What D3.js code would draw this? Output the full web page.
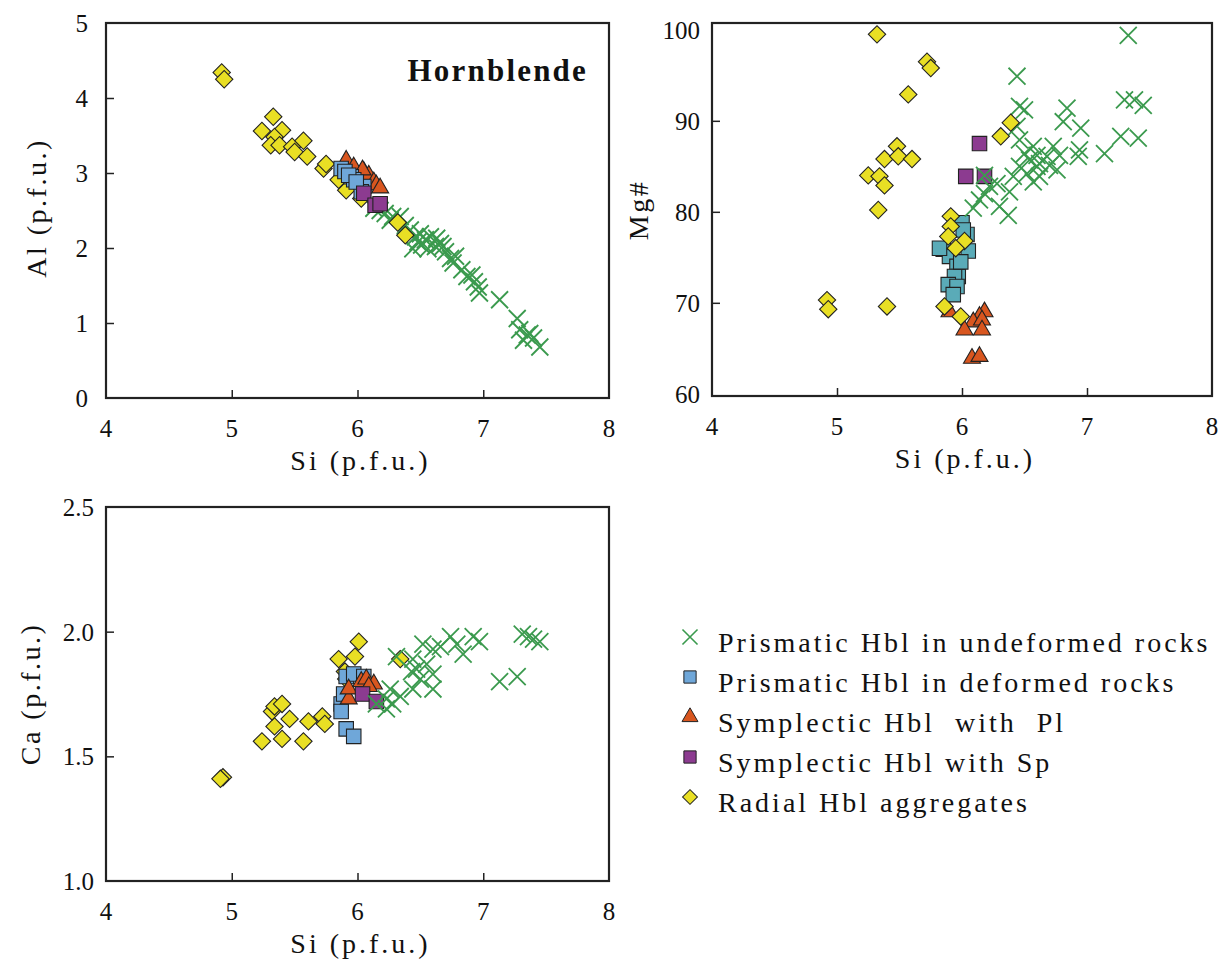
<!DOCTYPE html>
<html>
<head>
<meta charset="utf-8">
<script src="https://cdn.jsdelivr.net/npm/d3@7"></script>
<style>
  body { margin: 0; background: #fff; }
  svg { display: block; }
  text { font-family: "Liberation Serif", "Times New Roman", serif; fill: #111; }
</style>
</head>
<body>
<svg id="chart" width="1226" height="964"></svg>
<script>
// ---- data (Si, value) ----
const alUndeformed = [[6.13,2.53],[6.18,2.50],[6.22,2.46],[6.28,2.42],[6.34,2.42],[6.26,2.37],[6.38,2.30],[6.42,2.24],[6.46,2.15],[6.50,2.19],[6.54,2.11],[6.58,2.15],[6.63,2.13],[6.66,2.06],[6.48,2.08],[6.44,1.99],[6.51,2.04],[6.56,1.99],[6.62,2.02],[6.68,2.02],[6.70,1.95],[6.74,1.86],[6.78,1.89],[6.76,1.80],[6.83,1.71],[6.87,1.62],[6.91,1.64],[6.93,1.55],[6.96,1.48],[6.97,1.40],[7.13,1.31],[7.27,1.06],[7.29,0.91],[7.35,0.84],[7.40,0.80],[7.32,0.77],[7.45,0.68],[7.37,0.86]];
const alDeformed = [[5.87,3.06],[5.90,3.02],[5.95,2.95],[5.97,2.91],[6.05,2.82],[6.03,2.75],[5.93,2.97],[5.99,2.88]];
const alWithPl = [[5.91,3.17],[5.97,3.08],[6.05,3.02],[6.09,2.97],[6.13,2.88],[6.15,2.84],[6.18,2.80],[6.04,3.04]];
const alWithSp = [[6.05,2.73],[6.14,2.57],[6.18,2.59]];
const alRadial = [[4.92,4.34],[4.94,4.25],[5.33,3.75],[5.24,3.56],[5.40,3.57],[5.34,3.48],[5.31,3.37],[5.38,3.37],[5.48,3.35],[5.57,3.43],[5.50,3.28],[5.60,3.22],[5.73,3.06],[5.75,3.12],[5.85,2.91],[5.91,2.77],[6.03,2.66],[6.32,2.34],[6.38,2.17]];

const mgUndeformed = [[7.33,99.4],[6.44,94.9],[6.46,91.6],[6.50,91.2],[6.84,91.4],[6.81,89.9],[6.95,89.2],[7.30,92.3],[7.45,91.7],[7.38,92.3],[7.27,88.3],[7.41,88.1],[7.14,86.4],[6.94,86.8],[6.93,86.1],[6.44,89.4],[6.46,87.9],[6.57,87.2],[6.73,87.2],[6.50,86.4],[6.60,86.2],[6.68,86.1],[6.78,86.2],[6.54,85.7],[6.62,85.3],[6.70,85.1],[6.60,85.0],[6.76,84.6],[6.46,85.0],[6.52,84.2],[6.62,83.9],[6.57,83.3],[6.41,83.9],[6.28,83.1],[6.18,84.0],[6.22,82.8],[6.38,82.2],[6.14,81.3],[6.09,80.4],[6.30,80.6],[6.37,79.6],[6.18,82.0]];
const mgDeformed = [[6.00,78.8],[6.04,77.5],[5.85,75.9],[6.05,75.7],[5.90,75.1],[5.96,74.0],[5.97,72.9],[5.94,72.9],[5.89,72.0],[5.96,71.8],[5.93,70.9],[5.82,76.0],[6.01,78.0],[5.99,74.5]];
const mgWithPl = [[5.90,69.0],[6.18,69.0],[6.14,68.5],[6.09,67.9],[6.16,68.1],[6.02,67.0],[6.16,67.0],[6.08,63.9],[6.14,64.1]];
const mgWithSp = [[6.14,87.5],[6.03,83.9],[6.18,83.9]];
const mgRadial = [[5.32,99.5],[5.72,96.5],[5.75,95.8],[5.57,92.9],[6.39,89.8],[6.31,88.3],[5.48,87.2],[5.38,85.8],[5.49,86.1],[5.60,85.8],[5.25,84.0],[5.34,83.9],[5.38,82.9],[5.33,80.2],[5.91,79.5],[5.91,78.4],[5.89,77.3],[6.02,76.8],[5.95,76.0],[4.92,70.3],[4.93,69.3],[5.40,69.6],[5.86,69.6],[5.99,68.5]];

const caUndeformed = [[6.15,1.71],[6.23,1.69],[6.28,1.71],[6.26,1.77],[6.34,1.74],[6.23,1.73],[6.44,1.77],[6.50,1.81],[6.47,1.85],[6.55,1.87],[6.60,1.77],[6.60,1.83],[6.43,1.84],[6.52,1.95],[6.60,1.93],[6.66,1.94],[6.74,1.98],[6.79,1.95],[6.84,1.91],[6.92,1.98],[6.97,1.96],[6.31,1.90],[6.44,1.89],[7.13,1.80],[7.27,1.82],[7.31,1.99],[7.40,1.97],[7.45,1.96],[7.36,1.98]];
const caDeformed = [[5.87,1.71],[5.87,1.68],[5.91,1.61],[5.97,1.58],[5.91,1.82],[5.97,1.83],[6.05,1.82],[5.89,1.75]];
const caWithPl = [[5.93,1.73],[5.93,1.77],[6.03,1.80],[6.07,1.81],[6.13,1.79],[6.09,1.78]];
const caWithSp = [[6.04,1.75],[6.15,1.72]];
const caRadial = [[4.93,1.416],[4.91,1.41],[5.24,1.56],[5.40,1.57],[5.57,1.56],[5.34,1.62],[5.32,1.68],[5.34,1.70],[5.40,1.71],[5.46,1.65],[5.61,1.64],[5.72,1.66],[5.74,1.63],[5.91,1.81],[5.90,1.84],[5.85,1.89],[5.98,1.90],[6.01,1.96],[6.34,1.89]];

const siTicks = [4, 5, 6, 7, 8];
const alTicks = [0, 1, 2, 3, 4, 5];
const mgTicks = [60, 70, 80, 90, 100];
const caTicks = [1.0, 1.5, 2.0, 2.5];

const seriesNames = ["Prismatic Hbl in undeformed rocks", "Prismatic Hbl in deformed rocks", "Symplectic Hbl  with  Pl", "Symplectic Hbl with Sp", "Radial Hbl aggregates"];

// ---- styles ----
const green = "#3b9a4e", blue = "#6fa7d9", teal = "#5aabb8", orange = "#d8561f", purple = "#8c3b90", yellow = "#e9df24";
const sym = {
  cross: d3.symbol(d3.symbolTimes, 190),
  square: d3.symbol(d3.symbolSquare, 210),
  tri: d3.symbol(d3.symbolTriangle, 125),
  diamond: d3.symbol(d3.symbolSquare, 150)
};

const svg = d3.select("#chart");

function drawPanel(p) {
  const x = d3.scaleLinear().domain([4, 8]).range([p.left, p.right]);
  const y = d3.scaleLinear().domain(p.yDomain).range([p.bottom, p.top]);
  const g = svg.append("g");

  // inward ticks
  g.append("g").attr("transform", `translate(0,${p.bottom})`)
    .call(d3.axisTop(x).tickValues(siTicks.slice(1, -1)).tickSize(8).tickFormat(""))
    .call(a => a.select(".domain").remove())
    .selectAll("line").attr("stroke", "#222").attr("stroke-width", 1.5);
  g.append("g").attr("transform", `translate(${p.left},0)`)
    .call(d3.axisRight(y).tickValues(p.yTicks.slice(1, -1)).tickSize(8).tickFormat(""))
    .call(a => a.select(".domain").remove())
    .selectAll("line").attr("stroke", "#222").attr("stroke-width", 1.5);

  // tick labels
  g.selectAll(".xl").data(siTicks).join("text")
    .attr("x", d => x(d)).attr("y", p.bottom + 39)
    .attr("text-anchor", "middle").attr("font-size", 25).text(d => d);
  g.selectAll(".yl").data(p.yTicks).join("text")
    .attr("x", p.left - p.yGap).attr("y", d => y(d)).attr("dy", "0.36em")
    .attr("text-anchor", "end").attr("font-size", 25).text(p.yFormat);

  // titles
  g.append("text").attr("x", (p.left + p.right) / 2 + 3).attr("y", p.bottom + 72)
    .attr("text-anchor", "middle").attr("font-size", 28).attr("letter-spacing", 3)
    .text("Si (p.f.u.)");
  g.append("text").attr("transform", `translate(${p.yTitleX},${p.yTitleY}) rotate(-90)`)
    .attr("text-anchor", "middle").attr("font-size", 28).attr("letter-spacing", 2.5)
    .text(p.yTitle);

  // points
  const layers = {
    cross: { data: p.cross, shape: sym.cross, fill: "none", stroke: green, sw: 1.8 },
    square: { data: p.deformed, shape: sym.square, fill: p.squareColor, stroke: "#222", sw: 1.1 },
    tri: { data: p.pl, shape: sym.tri, fill: orange, stroke: "#222", sw: 1.1 },
    sp: { data: p.sp, shape: sym.square, fill: purple, stroke: "#222", sw: 1.1 },
    diamond: { data: p.radial, shape: sym.diamond, fill: yellow, stroke: "#222", sw: 1.1, rot: 45 }
  };
  p.order.forEach(k => {
    const L = layers[k];
    g.append("g").selectAll("path").data(L.data).join("path")
      .attr("d", L.shape)
      .attr("transform", d => `translate(${x(d[0])},${y(d[1])})` + (L.rot ? ` rotate(${L.rot})` : ""))
      .attr("fill", L.fill).attr("stroke", L.stroke).attr("stroke-width", L.sw);
  });

  // frame
  g.append("rect").attr("x", p.left).attr("y", p.top)
    .attr("width", p.right - p.left).attr("height", p.bottom - p.top)
    .attr("fill", "none").attr("stroke", "#222").attr("stroke-width", 2.2);
  return g;
}

const p1 = drawPanel({
  left: 106, right: 609, top: 23, bottom: 398, yDomain: [0, 5], yTicks: alTicks, yGap: 18,
  yFormat: d => d, yTitle: "Al (p.f.u.)", yTitleX: 46, yTitleY: 208,
  cross: alUndeformed, deformed: alDeformed, pl: alWithPl, sp: alWithSp, radial: alRadial,
  squareColor: blue, order: ["cross", "diamond", "tri", "square", "sp"]
});
p1.append("text").attr("x", 588).attr("y", 81).attr("text-anchor", "end")
  .attr("font-size", 31).attr("font-weight", "bold").attr("letter-spacing", 2.2).text("Hornblende");

drawPanel({
  left: 712, right: 1212, top: 23, bottom: 396, yDomain: [59.76, 100.75], yTicks: mgTicks, yGap: 12,
  yFormat: d => d, yTitle: "Mg#", yTitleX: 648, yTitleY: 210,
  cross: mgUndeformed, deformed: mgDeformed, pl: mgWithPl, sp: mgWithSp, radial: mgRadial,
  squareColor: teal, order: ["square", "tri", "sp", "cross", "diamond"]
});

drawPanel({
  left: 106, right: 609, top: 507, bottom: 881, yDomain: [1, 2.5], yTicks: caTicks, yGap: 12,
  yFormat: d3.format(".1f"), yTitle: "Ca (p.f.u.)", yTitleX: 40, yTitleY: 694,
  cross: caUndeformed, deformed: caDeformed, pl: caWithPl, sp: caWithSp, radial: caRadial,
  squareColor: blue, order: ["diamond", "square", "tri", "sp", "cross"]
});

// legend
const legendShapes = [
  { shape: d3.symbol(d3.symbolTimes, 150), fill: "none", stroke: green, sw: 1.6 },
  { shape: d3.symbol(d3.symbolSquare, 150), fill: blue, stroke: "#222", sw: 1 },
  { shape: d3.symbol(d3.symbolTriangle, 110), fill: orange, stroke: "#222", sw: 1 },
  { shape: d3.symbol(d3.symbolSquare, 150), fill: purple, stroke: "#222", sw: 1 },
  { shape: d3.symbol(d3.symbolSquare, 110), fill: yellow, stroke: "#222", sw: 1, rot: 45 }
];
const legend = svg.append("g").attr("transform", "translate(0,637)");
const rows = legend.selectAll("g").data(seriesNames).join("g")
  .attr("transform", (d, i) => `translate(0,${i * 40})`);
rows.append("path")
  .attr("d", (d, i) => legendShapes[i].shape())
  .attr("transform", (d, i) => `translate(690,0)` + (legendShapes[i].rot ? " rotate(45)" : ""))
  .attr("fill", (d, i) => legendShapes[i].fill)
  .attr("stroke", (d, i) => legendShapes[i].stroke)
  .attr("stroke-width", (d, i) => legendShapes[i].sw);
rows.append("text").attr("x", 718).attr("y", 7).attr("dy", "0.3em")
  .attr("font-size", 28).attr("letter-spacing", 3).style("white-space", "pre")
  .text(d => d);
</script>
</body>
</html>
